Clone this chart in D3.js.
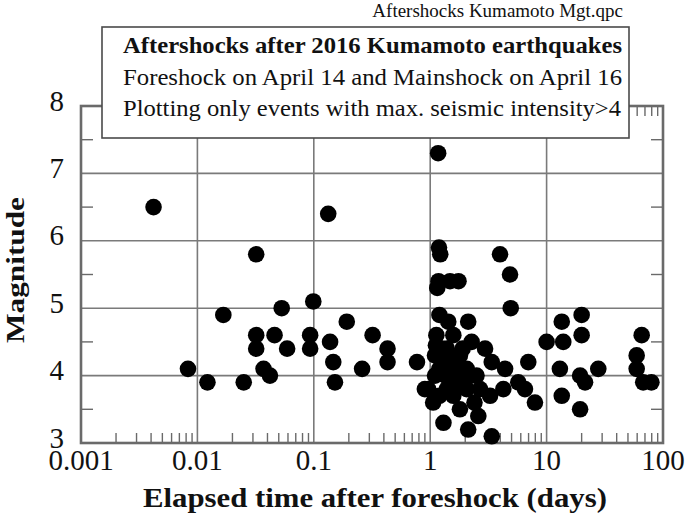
<!DOCTYPE html>
<html>
<head>
<meta charset="utf-8">
<script src="https://cdn.jsdelivr.net/npm/d3@7"></script>
<style>
  html, body { margin: 0; padding: 0; background: #fff; }
  svg { display: block; }
  text { font-family: "Liberation Serif", "Times New Roman", serif; fill: #111; }
</style>
</head>
<body>
<svg id="chart" width="685" height="516"></svg>
<script>
// ---- data ----
const elapsedDays = [
  0.0042, 0.0083, 0.0122, 0.0167, 0.025, 0.032, 0.032, 0.032, 0.037, 0.042,
  0.046, 0.053, 0.059, 0.093, 0.093, 0.099, 0.133, 0.138, 0.147, 0.152,
  0.192, 0.26, 0.32, 0.43, 0.43, 0.77,
  0.90, 0.96, 1.06, 1.17, 1.19, 1.22, 1.15, 1.18, 1.48, 1.75,
  1.2, 1.43, 2.12, 1.13, 1.58, 2.27, 2.96, 1.39, 1.3, 1.8,
  1.58, 3.38, 4.4, 2.06, 1.2, 1.69, 2.5, 1.48, 1.39, 2.06,
  2.68, 3.27, 4.25, 5.71, 6.52, 7.94, 1.2, 1.58, 2.4, 1.8,
  1.3, 2.59, 2.12, 3.38, 3.98, 4.85, 4.92, 6.96,
  1.25, 1.35, 1.65, 1.9, 1.1, 1.1, 1.12, 1.45, 1.75, 2.2,
  10, 13.5, 13.9, 20, 20, 13, 19.4, 21.4, 27.8, 13.5, 19.4,
  65.6, 59.4, 59.4, 67.6, 79.5
];
const magnitudes = [
  6.5, 4.1, 3.9, 4.9, 3.9, 5.8, 4.6, 4.4, 4.1, 4.0,
  4.6, 5.0, 4.4, 4.6, 4.4, 5.1, 6.4, 4.5, 4.2, 3.9,
  4.8, 4.1, 4.6, 4.4, 4.2, 4.2,
  3.8, 3.8, 3.6, 7.3, 5.9, 5.8, 5.3, 5.4, 5.4, 5.4,
  4.9, 4.8, 4.8, 4.6, 4.6, 4.5, 4.4, 4.4, 4.3, 4.3,
  4.2, 4.2, 4.1, 4.1, 4.1, 4.1, 4.0, 3.9, 3.8, 3.8,
  3.8, 3.7, 3.8, 3.9, 3.8, 3.6, 3.7, 3.7, 3.6, 3.5,
  3.3, 3.4, 3.2, 3.1, 5.8, 5.5, 5.0, 4.2,
  4.4, 4.0, 3.85, 4.4, 4.0, 4.3, 4.45, 4.15, 3.95, 4.0,
  4.5, 4.8, 4.5, 4.9, 4.6, 4.1, 4.0, 3.9, 4.1, 3.7, 3.5,
  4.6, 4.3, 4.1, 3.9, 3.9
];
const xTickValues = [0.001, 0.01, 0.1, 1, 10, 100];
const xTickLabels = ["0.001", "0.01", "0.1", "1", "10", "100"];
const yTickValues = [3, 4, 5, 6, 7, 8];
const yTickLabels = ["3", "4", "5", "6", "7", "8"];
const fileTitle = "Aftershocks Kumamoto Mgt.qpc";
const legendLines = [
  "Aftershocks after 2016 Kumamoto earthquakes",
  "Foreshock on April 14 and Mainshock on April 16",
  "Plotting only events with max. seismic intensity>4"
];
const xAxisTitle = "Elapsed time after foreshock (days)";
const yAxisTitle = "Magnitude";

// ---- layout ----
const L = 81, R = 663, T = 106, B = 443;
const svg = d3.select("#chart");
const x = d3.scaleLog().domain([0.001, 100]).range([L, R]);
const y = d3.scaleLinear().domain([3, 8]).range([B, T]);

const frameColor = "#6a6a6a";
const gridColor = "#7a7a7a";

// grid
const g = svg.append("g");
g.selectAll("line.vg").data(xTickValues.slice(1, -1)).join("line")
  .attr("x1", d => x(d)).attr("x2", d => x(d)).attr("y1", T).attr("y2", B)
  .attr("stroke", gridColor).attr("stroke-width", 1.6);
g.selectAll("line.hg").data(yTickValues.slice(1, -1)).join("line")
  .attr("y1", d => y(d)).attr("y2", d => y(d)).attr("x1", L).attr("x2", R)
  .attr("stroke", gridColor).attr("stroke-width", 1.6);

// minor ticks on x (top & bottom)
const minorX = [];
for (let e = -3; e < 2; e++) for (let k = 2; k <= 9; k++) minorX.push(k * Math.pow(10, e));
g.append("g").selectAll("line").data(minorX).join("line")
  .attr("x1", d => x(d)).attr("x2", d => x(d)).attr("y1", B).attr("y2", B - 10)
  .attr("stroke", frameColor).attr("stroke-width", 1.4);
g.append("g").selectAll("line").data(minorX).join("line")
  .attr("x1", d => x(d)).attr("x2", d => x(d)).attr("y1", T).attr("y2", T + 10)
  .attr("stroke", frameColor).attr("stroke-width", 1.4);

// minor ticks on y (left & right)
const minorY = [3.5, 4.5, 5.5, 6.5, 7.5];
g.append("g").selectAll("line").data(minorY).join("line")
  .attr("y1", d => y(d)).attr("y2", d => y(d)).attr("x1", L).attr("x2", L + 12)
  .attr("stroke", frameColor).attr("stroke-width", 1.4);
g.append("g").selectAll("line").data(minorY).join("line")
  .attr("y1", d => y(d)).attr("y2", d => y(d)).attr("x1", R).attr("x2", R - 12)
  .attr("stroke", frameColor).attr("stroke-width", 1.4);

// frame
svg.append("rect").attr("x", L).attr("y", T).attr("width", R - L).attr("height", B - T)
  .attr("fill", "none").attr("stroke", frameColor).attr("stroke-width", 2.6);

// points
svg.append("g").selectAll("circle").data(elapsedDays.map((t, i) => [t, magnitudes[i]])).join("circle")
  .attr("cx", d => x(d[0])).attr("cy", d => y(d[1])).attr("r", 8.3).attr("fill", "#000");

// tick labels
svg.append("g").selectAll("text").data(xTickValues).join("text")
  .attr("x", d => x(d)).attr("y", 470).attr("text-anchor", "middle")
  .attr("font-size", 29).text((d, i) => xTickLabels[i]);
svg.append("g").selectAll("text").data(yTickValues).join("text")
  .attr("x", 64).attr("y", d => y(d) + 4.5).attr("text-anchor", "end")
  .attr("font-size", 29).text((d, i) => yTickLabels[i]);

// axis titles
svg.append("text").attr("x", 143).attr("y", 507)
  .attr("font-size", 28).attr("font-weight", "bold")
  .attr("textLength", 464).attr("lengthAdjust", "spacingAndGlyphs").text(xAxisTitle);
svg.append("text").attr("transform", "translate(24,343) rotate(-90)")
  .attr("x", 0).attr("y", 0)
  .attr("font-size", 26).attr("font-weight", "bold")
  .attr("textLength", 146).attr("lengthAdjust", "spacingAndGlyphs").text(yAxisTitle);

// file title
svg.append("text").attr("x", 623).attr("y", 17).attr("text-anchor", "end")
  .attr("font-size", 19).text(fileTitle);

// legend box
svg.append("rect").attr("x", 102).attr("y", 27).attr("width", 629 - 102).attr("height", 138 - 27)
  .attr("fill", "#fff").attr("stroke", "#4a4a4a").attr("stroke-width", 1.6);
const lgY = [53, 85, 116];
svg.append("g").selectAll("text").data(legendLines).join("text")
  .attr("x", 123).attr("y", (d, i) => lgY[i])
  .attr("font-size", 23).attr("font-weight", (d, i) => i === 0 ? "bold" : "normal")
  .attr("textLength", (d, i) => i === 2 ? 498 : 499).attr("lengthAdjust", "spacingAndGlyphs")
  .text(d => d);
</script>
</body>
</html>
